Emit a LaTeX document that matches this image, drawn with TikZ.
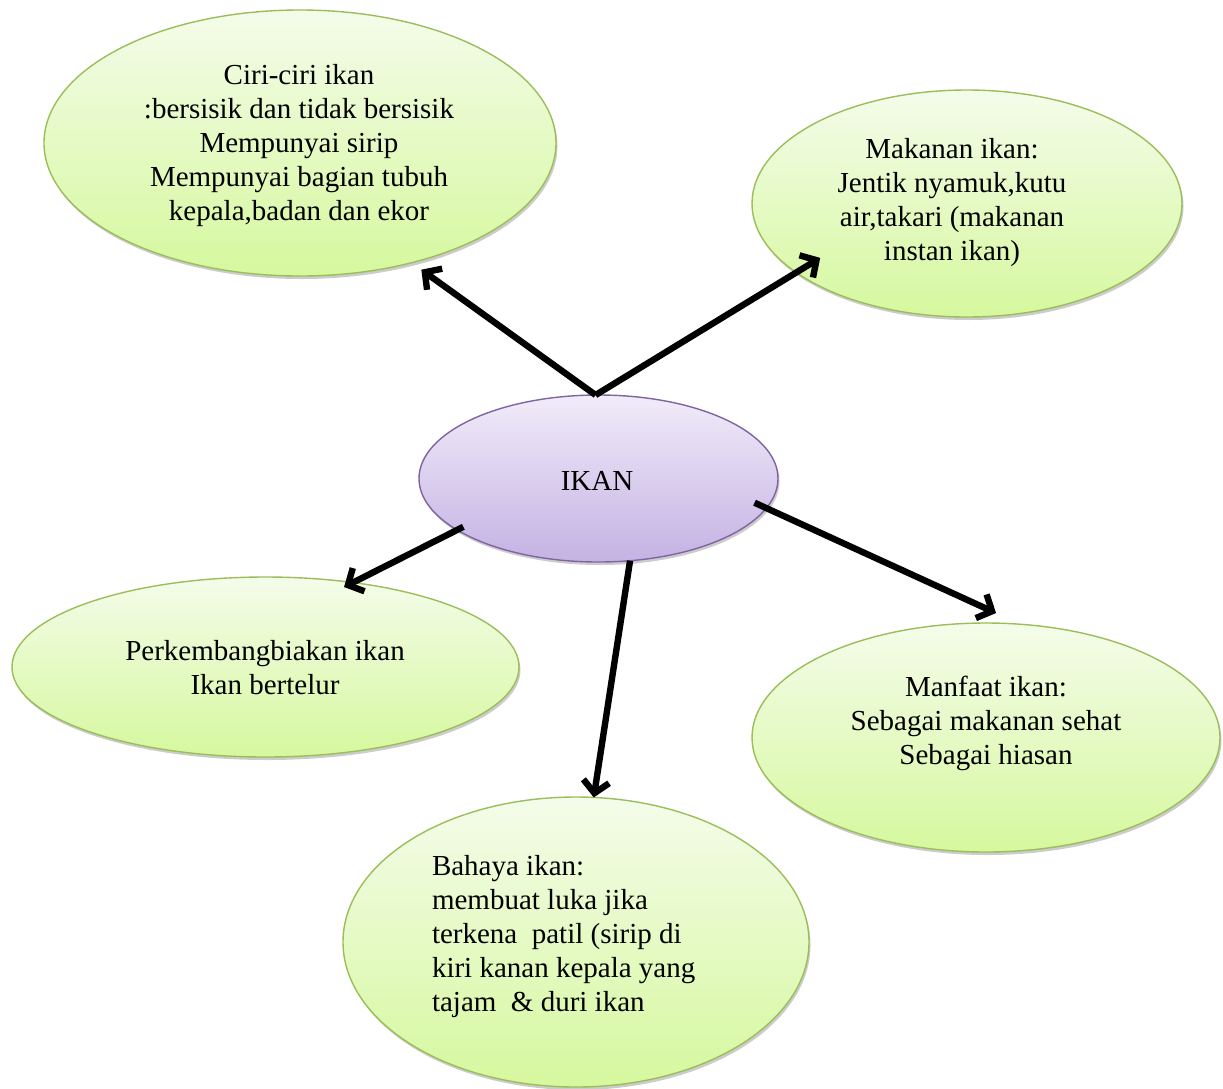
\documentclass[tikz,border=0pt]{standalone}
\usepackage{fontspec}
\setmainfont{Liberation Serif}
\usetikzlibrary{shapes.geometric,arrows.meta,shadows}
\definecolor{gtop}{RGB}{244,252,234}
\definecolor{gbot}{RGB}{214,248,158}
\definecolor{gline}{RGB}{155,190,90}
\definecolor{ptop}{RGB}{241,236,249}
\definecolor{pbot}{RGB}{196,178,227}
\definecolor{pline}{RGB}{128,100,162}
\begin{document}
\begin{tikzpicture}[x=1pt,y=-1pt,
  bubble/.style={ellipse, draw=gline, line width=1.4pt, top color=gtop, bottom color=gbot,
    inner sep=0pt, outer sep=0pt,
    drop shadow={shadow xshift=1.5pt, shadow yshift=-3pt, opacity=0.2, fill=black}},
  centre/.style={bubble, draw=pline, top color=ptop, bottom color=pbot},
  txt/.style={font=\fontsize{29}{34}\selectfont, align=center, inner sep=0pt, outer sep=0pt},
  arr/.style={line width=6.4pt, -{Straight Barb[length=12pt,width=26pt,line width=6.4pt]}}]
\useasboundingbox[fill=white] (0,0) rectangle (1223,1088);

% ellipses
\node[bubble, minimum width=512pt, minimum height=266pt] (ciri) at (300,143) {};
\node[bubble, minimum width=430pt, minimum height=227pt] (makanan) at (967,203.5) {};
\node[centre, minimum width=359pt, minimum height=167pt] (ikan) at (598.5,478.5) {};
\node[bubble, minimum width=507pt, minimum height=180pt] (perk) at (265.5,667) {};
\node[bubble, minimum width=468pt, minimum height=229pt] (manfaat) at (986,737.5) {};
\node[bubble, minimum width=466pt, minimum height=290pt] (bahaya) at (576,942) {};

% connectors
\draw[arr, shorten >=12pt] (ikan.92) -- (ciri.-47.4);
\draw[arr, shorten >=-28pt] (ikan.92) -- (makanan.202);
\draw[arr, shorten <=-7pt, shorten >=-10pt] (ikan.200.6) -- (perk.44.2);
\draw[arr] (ikan.-69.3) -- (bahaya.83.3);
\draw[arr, shorten <=-13pt, shorten >=27pt] (ikan.-10.5) -- (manfaat.73.3);

% texts
\node[txt] (tciri) at (299,146) {Ciri-ciri ikan\\:bersisik dan tidak bersisik\\Mempunyai sirip\\Mempunyai bagian tubuh\\kepala,badan dan ekor};
\node[txt] (tmakanan) at (952,203) {Makanan ikan:\\Jentik nyamuk,kutu\\air,takari (makanan\\instan ikan)};
\node[txt] (tikan) at (597,481) {IKAN};
\node[txt] (tperk) at (265,668) {Perkembangbiakan ikan\\Ikan bertelur};
\node[txt] (tmanfaat) at (986,723) {Manfaat ikan:\\Sebagai makanan sehat\\Sebagai hiasan};
\node[txt, align=left, anchor=west] (tbahaya) at (432,937) {Bahaya ikan:\\membuat luka jika\\terkena~~patil (sirip di\\kiri kanan kepala yang\\tajam~~\& duri ikan};
\end{tikzpicture}
\end{document}
